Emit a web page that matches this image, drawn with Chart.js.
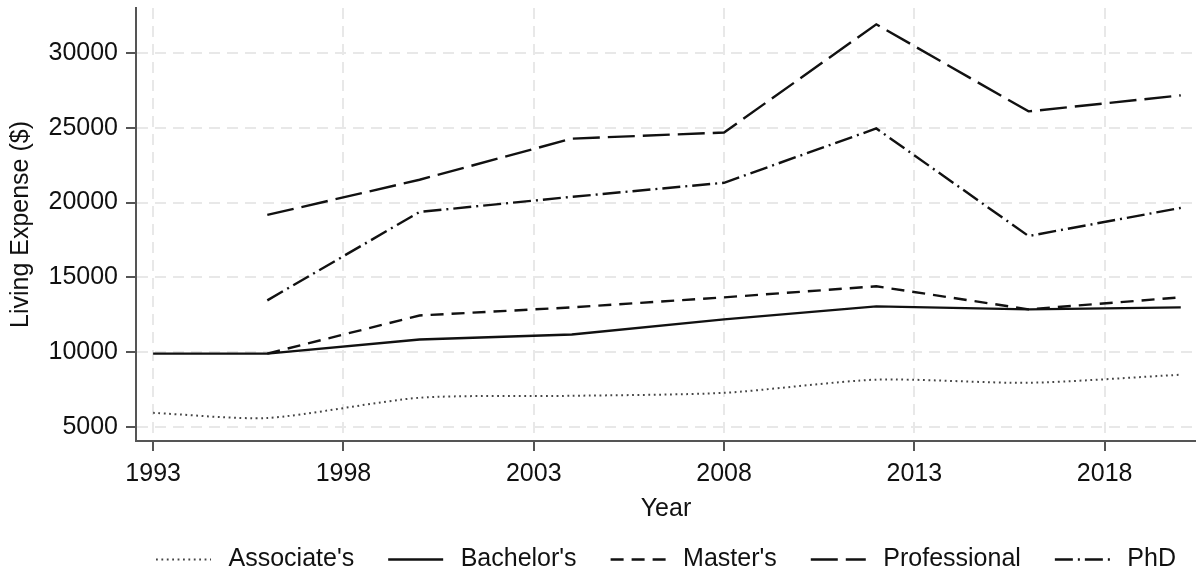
<!DOCTYPE html>
<html lang="en">
<head>
<meta charset="UTF-8">
<title>Living Expense by Degree</title>
<script src="https://cdn.jsdelivr.net/npm/chart.js"></script>
<style>
  html, body { margin: 0; padding: 0; background: #fff; }
  canvas { display: block; }
</style>
</head>
<body>
<canvas id="chart" width="1196" height="577"></canvas>
<script>
// survey years
const years = [1993, 1996, 2000, 2004, 2008, 2012, 2016, 2020];

// living expense ($); null = no data
const associates   = [5940, 5600, 6950, 7080, 7280, 8160, 7950, 8490];
const bachelors    = [9900, 9900, 10840, 11180, 12190, 13060, 12860, 12990];
const masters      = [null, 9900, 12450, 12990, 13660, 14400, 12860, 13660];
const professional = [null, 19170, 21520, 24270, 24680, 31910, 26090, 27160];
const phd          = [null, 13460, 19370, 20380, 21320, 24950, 17760, 19640];

const xTicks = [1993, 1998, 2003, 2008, 2013, 2018];
const yTicks = [5000, 10000, 15000, 20000, 25000, 30000];

const FONT = "'Liberation Sans', Arial, sans-serif";
const AXIS = '#555';
const GRID = '#e8e8e8';
const KEY_LEN = 55;

function pts(vals) {
    return years.map((y, i) => ({ x: y, y: vals[i] }));
}

function series(label, vals, dash, width, color, tension) {
    return {
        label: label,
        data: pts(vals),
        borderColor: color,
        backgroundColor: color,
        borderWidth: width,
        borderDash: dash,
        pointRadius: 0,
        tension: tension || 0,
        fill: false
    };
}

const datasets = [
    series("Associate's", associates, [1.8, 3.6], 2, '#444', 0.25),
    series("Bachelor's", bachelors, [], 2.4, '#111'),
    series("Master's", masters, [13, 8], 2.4, '#111'),
    series('Professional', professional, [27, 8], 2.4, '#111'),
    series('PhD', phd, [18, 5, 2, 5], 2.4, '#111')
];

// center the legend under the plot area and draw dashed keys
// (the point-style legend ignores line dashes)
const legendKeys = {
    id: 'legendKeys',
    afterLayout(chart) {
        const lg = chart.legend;
        if (!lg) return;
        // widen symmetrically around the plot centre so the row never wraps
        lg.left = chart.chartArea.left - 40;
        lg.right = chart.width + 40;
    },
    afterDraw(chart) {
        const lg = chart.legend;
        if (!lg || !lg.legendHitBoxes) return;
        const ctx = chart.ctx;
        lg.legendHitBoxes.forEach((hb, i) => {
            const ds = chart.data.datasets[lg.legendItems[i].datasetIndex];
            const y = Math.round(hb.top + hb.height / 2) + 0.5;
            ctx.save();
            ctx.strokeStyle = ds.borderColor;
            ctx.lineWidth = ds.borderWidth;
            ctx.setLineDash(ds.borderDash);
            ctx.beginPath();
            ctx.moveTo(hb.left, y);
            ctx.lineTo(hb.left + KEY_LEN, y);
            ctx.stroke();
            ctx.restore();
        });
    }
};

new Chart(document.getElementById('chart').getContext('2d'), {
    type: 'line',
    data: { datasets: datasets },
    options: {
        responsive: false,
        animation: false,
        devicePixelRatio: 1,
        layout: { padding: { top: 8, left: 0, right: 0, bottom: 0 } },
        plugins: {
            title: { display: false },
            tooltip: { enabled: false },
            legend: {
                position: 'bottom',
                maxHeight: 64.5,
                labels: {
                    usePointStyle: true,
                    pointStyle: 'line',
                    pointStyleWidth: 60,
                    padding: 34,
                    color: '#111',
                    font: { family: FONT, size: 25 },
                    generateLabels: chart => Chart.defaults.plugins.legend.labels
                        .generateLabels(chart)
                        .map(it => Object.assign(it, { lineWidth: 0, strokeStyle: 'rgba(0,0,0,0)' }))
                }
            }
        },
        scales: {
            x: {
                type: 'linear',
                min: 1992.55,
                max: 2020.4,
                afterBuildTicks: s => { s.ticks = xTicks.map(v => ({ value: v })); },
                afterFit: s => { s.height = 71.5; s.paddingLeft = 0; s.paddingRight = 0; },
                ticks: {
                    padding: 8,
                    color: '#111',
                    maxRotation: 0,
                    autoSkip: false,
                    font: { family: FONT, size: 25 },
                    callback: v => String(v)
                },
                grid: {
                    color: GRID,
                    lineWidth: 2,
                    tickLength: 10,
                    tickColor: AXIS,
                    tickWidth: 2,
                    tickBorderDash: []
                },
                border: { display: true, color: AXIS, width: 2, dash: [11, 7] },
                title: {
                    display: true,
                    text: 'Year',
                    color: '#111',
                    font: { family: FONT, size: 25 },
                    padding: { top: 0, bottom: -11.5 }
                }
            },
            y: {
                type: 'linear',
                min: 4060,
                max: 33000,
                afterBuildTicks: s => { s.ticks = yTicks.map(v => ({ value: v })); },
                afterFit: s => { s.width = 136; s.paddingTop = 0; s.paddingBottom = 0; },
                ticks: {
                    padding: 8,
                    color: '#111',
                    font: { family: FONT, size: 25 },
                    callback: v => String(v)
                },
                grid: {
                    color: GRID,
                    lineWidth: 2,
                    tickLength: 10,
                    tickColor: AXIS,
                    tickWidth: 2,
                    tickBorderDash: []
                },
                border: { display: true, color: AXIS, width: 2, dash: [11, 7] },
                title: {
                    display: true,
                    text: 'Living Expense ($)',
                    color: '#111',
                    font: { family: FONT, size: 25 },
                    padding: { top: 6, bottom: 0 }
                }
            }
        }
    },
    plugins: [legendKeys]
});
</script>
</body>
</html>
